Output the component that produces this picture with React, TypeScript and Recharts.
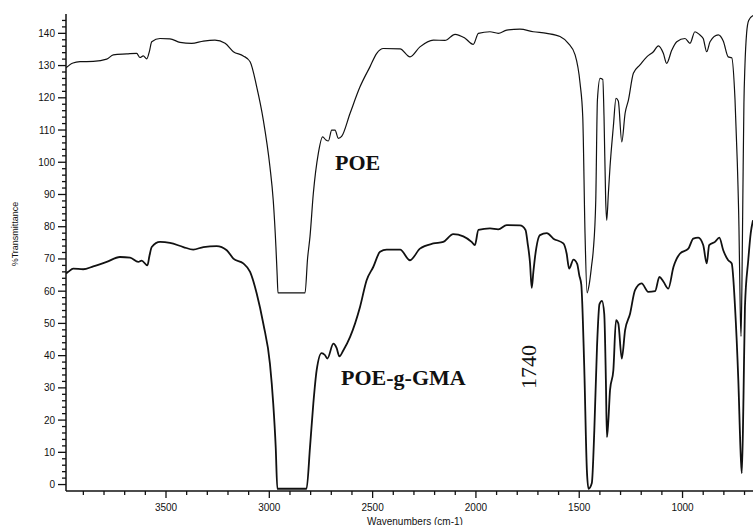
import { LineChart, Line, XAxis, YAxis } from 'recharts'

// FTIR spectra: POE (upper trace) and POE-g-GMA (lower trace)
const poeWn = [
  3984, 3950, 3916, 3852, 3787, 3755, 3690, 3642, 3626, 3610, 3593, 3580, 3569, 3529, 3481, 3432,
  3376, 3319, 3263, 3214, 3174, 3126, 3093, 3061, 3029, 2997, 2981, 2968, 2962, 2958, 2827, 2815,
  2803, 2787, 2763, 2742, 2726, 2714, 2698, 2682, 2666, 2650, 2609, 2561, 2513, 2480, 2448, 2367,
  2319, 2271, 2206, 2150, 2101, 2053, 2013, 1988, 1932, 1892, 1851, 1787, 1722, 1657, 1593, 1553,
  1520, 1496, 1483, 1472, 1462, 1452, 1440, 1432, 1420, 1412, 1399, 1386, 1380, 1372, 1367, 1359,
  1351, 1335, 1322, 1311, 1294, 1278, 1262, 1238, 1206, 1173, 1141, 1117, 1093, 1077, 1052, 1028,
  988, 964, 940, 916, 900, 883, 867, 827, 803, 779, 762, 746, 735, 727, 721, 717,
  713, 708, 703, 698, 690, 680, 659,
]
const poeT = [
  129.3, 130.8, 131.2, 131.3, 132.0, 133.3, 133.6, 133.8, 132.5, 133.0, 132.1, 134.5, 137.4, 138.4, 138.3, 137.2,
  136.9, 137.6, 137.9, 136.9, 134.3, 133.0, 131.2, 123.4, 113.1, 98.6, 88.2, 73.7, 65.0, 59.5, 59.5, 70.0,
  77.0, 90.3, 102.7, 107.9, 106.9, 106.6, 110.0, 110.0, 107.4, 108.0, 115.2, 123.4, 129.6, 133.8, 135.3, 135.2,
  132.7, 135.8, 137.9, 137.8, 139.7, 138.5, 136.6, 140.0, 140.5, 140.0, 141.0, 141.3, 140.5, 140.0, 139.0, 136.9,
  133.3, 124.5, 114.1, 77.9, 59.5, 62.0, 68.0, 72.7, 88.2, 119.3, 126.0, 125.7, 114.1, 88.2, 82.0, 90.3,
  98.6, 111.0, 119.8, 119.0, 106.3, 115.2, 119.3, 127.6, 130.2, 132.7, 134.3, 136.1, 133.8, 130.7, 134.8, 137.4,
  138.4, 136.9, 140.5, 139.5, 138.4, 134.3, 137.4, 139.5, 137.6, 132.7, 132.4, 119.3, 100.0, 80.0, 55.0, 46.0,
  60.0, 90.0, 118.0, 130.0, 140.0, 144.0, 145.5,
]

const gmaWn = [
  3984, 3973, 3949, 3901, 3852, 3787, 3723, 3674, 3634, 3618, 3590, 3580, 3569, 3529, 3481, 3416,
  3368, 3319, 3255, 3206, 3174, 3126, 3093, 3061, 3029, 2997, 2981, 2969, 2961, 2820, 2803, 2787,
  2771, 2747, 2731, 2719, 2690, 2674, 2661, 2642, 2609, 2561, 2529, 2497, 2464, 2432, 2367, 2319,
  2271, 2206, 2158, 2110, 2061, 2021, 2005, 1988, 1932, 1892, 1851, 1787, 1760, 1750, 1738, 1730,
  1722, 1714, 1690, 1657, 1625, 1577, 1561, 1549, 1528, 1510, 1500, 1490, 1476, 1463, 1455, 1439,
  1427, 1414, 1402, 1390, 1379, 1371, 1366, 1359, 1351, 1335, 1322, 1311, 1294, 1278, 1254, 1230,
  1198, 1166, 1133, 1112, 1093, 1069, 1044, 1012, 972, 948, 924, 900, 883, 871, 843, 822,
  803, 779, 762, 746, 730, 718, 713, 705, 698, 682, 670, 659,
]
const gmaT = [
  65.5, 66.0, 67.0, 66.8, 67.7, 69.1, 70.6, 70.4, 69.1, 69.5, 68.0, 71.0, 73.7, 75.3, 75.0, 73.7,
  72.9, 73.7, 74.0, 72.7, 70.1, 68.6, 66.0, 59.3, 49.9, 37.5, 25.1, 11.6, -1.3, -1.3, 11.6, 25.1,
  35.4, 40.8, 40.2, 39.1, 43.7, 42.3, 39.8, 41.6, 45.8, 55.1, 63.4, 67.5, 72.2, 72.9, 72.9, 69.6,
  73.2, 74.8, 75.3, 77.7, 77.0, 75.3, 74.3, 79.0, 79.5, 79.2, 80.5, 80.4, 79.0, 75.0, 68.6, 61.0,
  66.0, 70.6, 77.4, 78.0, 76.3, 74.8, 71.7, 67.0, 69.8, 68.5, 65.0, 62.0, 37.0, 4.4, -1.3, 0.5,
  16.8, 42.7, 56.0, 57.0, 53.0, 32.3, 14.7, 19.9, 29.3, 35.4, 51.0, 50.0, 39.1, 47.9, 53.0, 60.3,
  62.4, 59.8, 60.0, 64.4, 63.0, 60.8, 67.5, 71.7, 73.2, 76.3, 76.6, 74.3, 68.6, 74.3, 75.3, 76.6,
  72.7, 69.6, 68.6, 55.1, 32.3, 8.5, 3.5, 27.1, 55.1, 69.6, 78.0, 82.0,
]

const xLabels = [3500, 3000, 2500, 2000, 1500, 1000]
const yLabels = [0, 10, 20, 30, 40, 50, 60, 70, 80, 90, 100, 110, 120, 130, 140]

const poeData = poeWn.map((wn, i) => ({ wn, t: poeT[i] }))
const gmaData = gmaWn.map((wn, i) => ({ wn, t: gmaT[i] }))

// tick marks every 100 cm-1 and every 2 %T, labels only on the majors
const xTicks: number[] = []
for (let v = 700; v <= 3900; v += 100) xTicks.push(v)
const yTicks: number[] = []
for (let v = 0; v <= 144; v += 2) yTicks.push(v)

const INK = '#111'
const SANS = '"Liberation Sans", Arial, Helvetica, sans-serif'
const SERIF = '"Liberation Serif", "Times New Roman", serif'

function XTick(props: any) {
  const { x, y, payload } = props
  const major = xLabels.includes(payload.value)
  return (
    <g>
      <line x1={x} y1={y} x2={x} y2={y + (major ? 7 : 4)} stroke={INK} strokeWidth={1.3} />
      {major && (
        <text x={x} y={y + 19.5} textAnchor="middle" fontSize={10} fontFamily={SANS} fill={INK}>
          {payload.value}
        </text>
      )}
    </g>
  )
}

function YTick(props: any) {
  const { x, y, payload } = props
  const major = yLabels.includes(payload.value)
  return (
    <g>
      <line x1={x - (major ? 8 : 4)} y1={y} x2={x} y2={y} stroke={INK} strokeWidth={1.3} />
      {major && (
        <text x={x - 11} y={y} dy="0.35em" textAnchor="end" fontSize={10} fontFamily={SANS} fill={INK}>
          {payload.value}
        </text>
      )}
    </g>
  )
}

export default function App() {
  return (
    <div style={{ position: 'absolute', left: 0, top: 0, width: 753, height: 525, background: '#fff' }}>
      <LineChart width={753} height={525} margin={{ top: 14, right: 0, bottom: 0, left: 0 }}>
        <XAxis
          type="number"
          dataKey="wn"
          domain={[659, 3984]}
          reversed
          allowDataOverflow
          ticks={xTicks}
          interval={0}
          tick={<XTick />}
          tickLine={false}
          tickSize={0}
          tickMargin={0}
          height={34}
          axisLine={{ stroke: INK, strokeWidth: 1.5 }}
        />
        <YAxis
          type="number"
          domain={[-2, 146]}
          allowDataOverflow
          ticks={yTicks}
          interval={0}
          tick={<YTick />}
          tickLine={false}
          tickSize={0}
          tickMargin={0}
          width={66}
          axisLine={{ stroke: INK, strokeWidth: 1.5 }}
        />
        <Line
          data={poeData}
          dataKey="t"
          type="monotone"
          stroke={INK}
          strokeWidth={1.2}
          dot={false}
          isAnimationActive={false}
        />
        <Line
          data={gmaData}
          dataKey="t"
          type="monotone"
          stroke={INK}
          strokeWidth={1.8}
          dot={false}
          isAnimationActive={false}
        />
      </LineChart>
      <svg width={753} height={525} style={{ position: 'absolute', left: 0, top: 0, pointerEvents: 'none' }}>
        <text x={335} y={169.5} fontSize={22} fontWeight="bold" fontFamily={SERIF} fill={INK}>POE</text>
        <text x={341} y={385} fontSize={22} fontWeight="bold" fontFamily={SERIF} fill={INK}>POE-g-GMA</text>
        <text
          x={528}
          y={367}
          transform="rotate(-90 528 367)"
          textAnchor="middle"
          dy="0.35em"
          fontSize={22}
          fontFamily={SERIF}
          fill={INK}
        >
          1740
        </text>
        <text
          x={15}
          y={234}
          transform="rotate(-90 15 234)"
          textAnchor="middle"
          dy="0.35em"
          fontSize={9}
          fontFamily={SANS}
          fill={INK}
        >
          %Transmittance
        </text>
        <text x={415} y={521} textAnchor="middle" dy="0.35em" fontSize={10} fontFamily={SANS} fill={INK}>
          Wavenumbers (cm-1)
        </text>
      </svg>
    </div>
  )
}
